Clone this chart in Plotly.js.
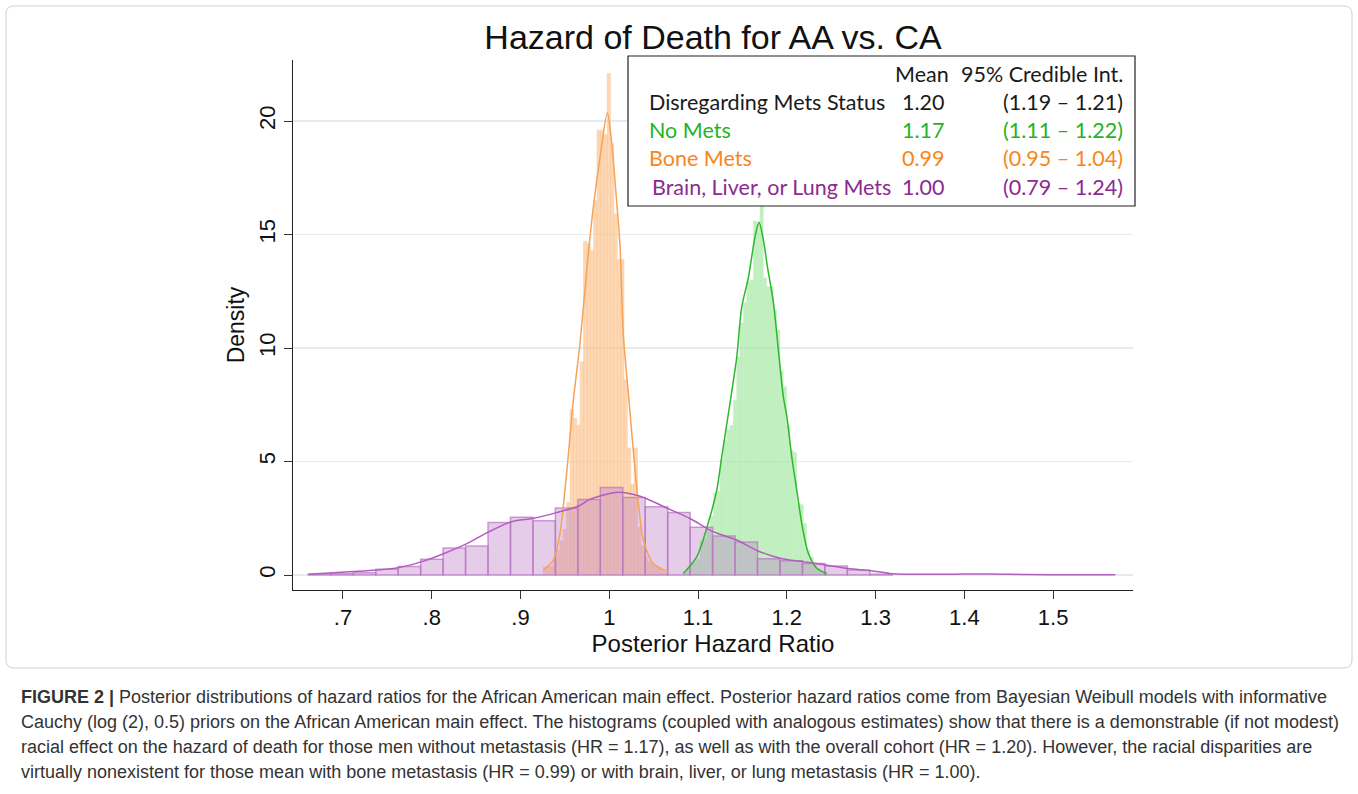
<!DOCTYPE html>
<html>
<head>
<meta charset="utf-8">
<script src="https://cdn.plot.ly/plotly-3.0.1.min.js"></script>
<style>
  html, body { margin: 0; padding: 0; background: #ffffff; }
  #chart { width: 1358px; height: 794px; }
</style>
</head>
<body>
<div id="chart"></div>
<script>
// ---------------- DATA ----------------
const chartTitle = "Hazard of Death for AA vs. CA";
const xTitle = "Posterior Hazard Ratio";
const yTitle = "Density";
const xTickVals = [0.7, 0.8, 0.9, 1.0, 1.1, 1.2, 1.3, 1.4, 1.5];
const xTickText = [".7", ".8", ".9", "1", "1.1", "1.2", "1.3", "1.4", "1.5"];
const yTickVals = [0, 5, 10, 15, 20];

// Bone Mets histogram (density per bin)
const boneBinStart = 0.9254;
const boneBinWidth = 0.0038;
const boneDensity = [0.35, 0.35, 0.4, 0.7, 1.1, 1.5, 2.0, 3.2, 7.3, 6.9, 6.6, 9.4,
  14.7, 14.6, 14.3, 16.5, 19.6, 19.6, 19.4, 22.1, 19.0, 15.9, 13.9, 13.9, 8.6,
  5.6, 4.0, 5.6, 2.1, 1.3, 0.8, 0.6, 0.5, 0.4, 0.3, 0.2, 0.1];
const boneKdeX = [0.9257, 0.937, 0.9445, 0.952, 0.9595, 0.967, 0.976, 0.982, 0.9896, 0.9978,
  1.0028, 1.0076, 1.0121, 1.0158, 1.0215, 1.0309, 1.0384, 1.0496, 1.0665];
const boneKdeY = [0.22, 0.66, 1.85, 4.5, 7.7, 10.2, 14.0, 16.2, 18.4, 20.37,
  19.0, 16.8, 14.5, 10.6, 8.0, 3.9, 1.54, 0.5, 0.15];

// No Mets histogram
const noMetsBinStart = 1.0834;
const noMetsBinWidth = 0.003756;
const noMetsDensity = [0.15, 0.3, 0.5, 0.6, 0.7, 1.5, 1.6, 2.0, 2.6, 3.6, 3.7, 5.1,
  5.95, 6.4, 6.6, 7.7, 9.6, 11.1, 12.0, 12.95, 13.0, 15.6, 15.5, 16.45, 13.1, 12.7,
  12.7, 11.7, 10.8, 9.0, 8.3, 6.6, 5.5, 5.4, 3.16, 3.1, 2.28, 1.1, 0.8, 0.5, 0.25,
  0.15, 0.1];
const noMetsKdeX = [1.0834, 1.0985, 1.1135, 1.1211, 1.1267, 1.1361, 1.1436, 1.1492, 1.1567,
  1.1642, 1.1687, 1.1736, 1.1781, 1.1849, 1.1905, 1.1961, 1.2, 1.2056, 1.2112, 1.2168,
  1.2243, 1.2337, 1.245];
const noMetsKdeY = [0.07, 0.8, 2.57, 3.74, 5.2, 7.6, 9.6, 11.8, 13.1,
  14.9, 15.54, 14.76, 13.6, 12.0, 9.9, 7.85, 7.0, 5.2, 3.74, 2.28,
  0.95, 0.3, 0.07];

// Brain, Liver, or Lung Mets histogram
const bllBinStart = 0.661;
const bllBinWidth = 0.0253;
const bllDensity = [0.04, 0.06, 0.10, 0.25, 0.37, 0.70, 1.19, 1.28, 2.31, 2.54, 2.39,
  2.95, 3.33, 3.86, 3.42, 3.01, 2.75, 2.10, 1.72, 1.45, 0.72, 0.63, 0.51, 0.40, 0.22, 0.04];
const bllKdeX = [0.661, 0.712, 0.738, 0.762, 0.789, 0.814, 0.839, 0.8645, 0.890, 0.915,
  0.9405, 0.9656, 0.978, 1.008, 1.0347, 1.066, 1.091, 1.117, 1.1436, 1.1677, 1.1935,
  1.218, 1.244, 1.269, 1.2946, 1.316, 1.35, 1.40, 1.43, 1.47, 1.52, 1.57];
const bllKdeY = [0.03, 0.15, 0.22, 0.32, 0.59, 0.95, 1.37, 1.91, 2.35, 2.50,
  2.75, 3.04, 3.33, 3.64, 3.47, 2.93, 2.49, 1.91, 1.54, 1.06, 0.73,
  0.59, 0.44, 0.29, 0.19, 0.07, 0.03, 0.04, 0.05, 0.02, 0.01, 0.01];

// Summary table
const tableHeader = ["Mean", "95% Credible Int."];
const groupLabels = ["Disregarding Mets Status", "No Mets", "Bone Mets", "Brain, Liver, or Lung Mets"];
const groupMeans = ["1.20", "1.17", "0.99", "1.00"];
const groupCIs = ["(1.19 \u2013 1.21)", "(1.11 \u2013 1.22)", "(0.95 \u2013 1.04)", "(0.79 \u2013 1.24)"];

const captionLines = [
  "<b>FIGURE 2 |</b> Posterior distributions of hazard ratios for the African American main effect. Posterior hazard ratios come from Bayesian Weibull models with informative",
  "Cauchy (log (2), 0.5) priors on the African American main effect. The histograms (coupled with analogous estimates) show that there is a demonstrable (if not modest)",
  "racial effect on the hazard of death for those men without metastasis (HR = 1.17), as well as with the overall cohort (HR = 1.20). However, the racial disparities are",
  "virtually nonexistent for those mean with bone metastasis (HR = 0.99) or with brain, liver, or lung metastasis (HR = 1.00)."
];

// ---------------- STYLE / LAYOUT ----------------
const groupColors = ["#1a1a1a", "#1fb51f", "#f7861c", "#8b2a90"];
const W = 1358, H = 794;
const PL = 293, PR = 1133, PT = 60, PB = 590;
const px = x => (x - PL) / (PR - PL);
const py = y => (PB - y) / (PB - PT);

function centers(start, w, n) {
  return Array.from({length: n}, (_, i) => start + w * (i + 0.5));
}

const traces = [
  {type: 'bar', x: centers(boneBinStart, boneBinWidth, boneDensity.length), y: boneDensity,
   width: boneBinWidth, marker: {color: 'rgba(252,190,130,0.6)', line: {color: 'rgba(250,200,160,0.9)', width: 0.5}},
   hoverinfo: 'skip'},
  {type: 'scatter', mode: 'lines', x: boneKdeX, y: boneKdeY,
   line: {color: '#f7a256', width: 1.5, shape: 'spline', smoothing: 0.8}, hoverinfo: 'skip'},
  {type: 'bar', x: centers(noMetsBinStart, noMetsBinWidth, noMetsDensity.length), y: noMetsDensity,
   width: noMetsBinWidth, marker: {color: 'rgba(120,220,115,0.45)', line: {color: 'rgba(200,245,200,0.9)', width: 0.5}},
   hoverinfo: 'skip'},
  {type: 'scatter', mode: 'lines', x: noMetsKdeX, y: noMetsKdeY,
   line: {color: '#2cb82c', width: 1.5, shape: 'spline', smoothing: 0.8}, hoverinfo: 'skip'},
  {type: 'bar', x: centers(bllBinStart, bllBinWidth, bllDensity.length), y: bllDensity,
   width: bllBinWidth, marker: {color: 'rgba(190,130,200,0.4)', line: {color: 'rgba(185,115,195,0.7)', width: 1.5}},
   hoverinfo: 'skip'},
  {type: 'scatter', mode: 'lines', x: bllKdeX, y: bllKdeY,
   line: {color: '#b35cc0', width: 1.5, shape: 'spline', smoothing: 0.8}, hoverinfo: 'skip'}
];

const tableFont = 'Lato, "Open Sans", sans-serif';
const TFS = 21.5;
const annotations = [];
annotations.push({xref: 'paper', yref: 'paper', x: px(951), y: py(74), xanchor: 'right', yanchor: 'middle',
  text: tableHeader[0], showarrow: false, font: {family: tableFont, size: TFS, color: '#1a1a1a'}});
annotations.push({xref: 'paper', yref: 'paper', x: px(1125), y: py(74), xanchor: 'right', yanchor: 'middle',
  text: tableHeader[1], showarrow: false, font: {family: tableFont, size: TFS, color: '#1a1a1a'}});
const rowY = [102, 130, 158, 187];
const rowX = [647, 647, 647, 650];
groupLabels.forEach((lab, i) => {
  annotations.push({xref: 'paper', yref: 'paper', x: px(rowX[i]), y: py(rowY[i]), xanchor: 'left', yanchor: 'middle',
    text: lab, showarrow: false, font: {family: tableFont, size: TFS, color: groupColors[i]}});
  annotations.push({xref: 'paper', yref: 'paper', x: px(946), y: py(rowY[i]), xanchor: 'right', yanchor: 'middle',
    text: groupMeans[i], showarrow: false, font: {family: tableFont, size: TFS, color: groupColors[i]}});
  annotations.push({xref: 'paper', yref: 'paper', x: px(1125), y: py(rowY[i]), xanchor: 'right', yanchor: 'middle',
    text: groupCIs[i], showarrow: false, font: {family: tableFont, size: TFS, color: groupColors[i]}});
});
const capY = [697, 722, 747, 772];
captionLines.forEach((t, i) => {
  annotations.push({xref: 'paper', yref: 'paper', x: px(19), y: py(capY[i]), xanchor: 'left', yanchor: 'middle',
    text: t, showarrow: false, font: {family: '"Liberation Sans", Arial, sans-serif', size: 18, color: '#333333'}});
});

const shapes = [
  {type: 'rect', xref: 'paper', yref: 'paper', x0: px(628), x1: px(1135), y0: py(56), y1: py(206),
   line: {color: '#222222', width: 1.2}, fillcolor: 'rgba(255,255,255,1)', layer: 'above'}
];
// outer light frame around the figure panel
const fr = {x0: 6, x1: 1352, y0: 6, y1: 668, r: 8};
shapes.push({type: 'path', xref: 'paper', yref: 'paper', layer: 'below',
  path: `M ${px(fr.x0 + fr.r)} ${py(fr.y0)} L ${px(fr.x1 - fr.r)} ${py(fr.y0)} Q ${px(fr.x1)} ${py(fr.y0)} ${px(fr.x1)} ${py(fr.y0 + fr.r)} ` +
        `L ${px(fr.x1)} ${py(fr.y1 - fr.r)} Q ${px(fr.x1)} ${py(fr.y1)} ${px(fr.x1 - fr.r)} ${py(fr.y1)} ` +
        `L ${px(fr.x0 + fr.r)} ${py(fr.y1)} Q ${px(fr.x0)} ${py(fr.y1)} ${px(fr.x0)} ${py(fr.y1 - fr.r)} ` +
        `L ${px(fr.x0)} ${py(fr.y0 + fr.r)} Q ${px(fr.x0)} ${py(fr.y0)} ${px(fr.x0 + fr.r)} ${py(fr.y0)} Z`,
  line: {color: '#cfcfcf', width: 1}});

const axFont = '"Liberation Sans", Arial, Helvetica, sans-serif';
const layout = {
  width: W, height: H,
  margin: {l: PL, r: W - PR, t: PT, b: H - PB, pad: 0},
  paper_bgcolor: '#ffffff', plot_bgcolor: '#ffffff',
  showlegend: false,
  barmode: 'overlay',
  title: {text: chartTitle, font: {family: axFont, size: 34, color: '#111111'},
          xref: 'paper', x: 0.5, xanchor: 'center', yref: 'container', y: 1 - 37 / H, yanchor: 'middle'},
  xaxis: {range: [0.6437, 1.590], tickvals: xTickVals, ticktext: xTickText,
          ticks: 'outside', ticklen: 8, tickcolor: '#333', tickwidth: 1,
          showline: true, linecolor: '#222', linewidth: 1, showgrid: false, zeroline: false,
          tickfont: {family: axFont, size: 22, color: '#111'},
          title: {text: xTitle, font: {family: axFont, size: 24, color: '#111'}, standoff: 2}},
  yaxis: {range: [-0.66, 22.69], tickvals: yTickVals, tickangle: -90,
          ticks: 'outside', ticklen: 8, tickcolor: '#333', tickwidth: 1,
          showline: true, linecolor: '#222', linewidth: 1,
          showgrid: true, gridcolor: '#e3edf1', gridwidth: 1.5, zeroline: false,
          tickfont: {family: axFont, size: 22, color: '#111'},
          title: {text: yTitle, font: {family: axFont, size: 23, color: '#111'}, standoff: 4}},
  annotations: annotations,
  shapes: shapes
};

Plotly.newPlot('chart', traces, layout, {displayModeBar: false, staticPlot: true});
</script>
</body>
</html>
